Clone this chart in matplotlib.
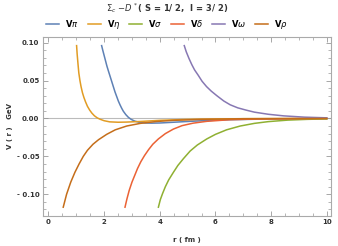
import matplotlib
matplotlib.use("Agg")
import matplotlib.pyplot as plt
from matplotlib.ticker import MultipleLocator, FuncFormatter

# values (r in fm, V in GeV)
r_pi = [1.91, 1.95, 2.0, 2.05, 2.1, 2.15, 2.21, 2.27, 2.33, 2.39, 2.45, 2.51, 2.57, 2.63, 2.69,
        2.78, 2.87, 2.97, 3.1, 3.25, 3.45, 3.7, 4.0, 4.5, 5.0, 5.7, 6.5, 7.5, 8.5, 10.0]
v_pi = [0.096, 0.090, 0.083, 0.076, 0.069, 0.063, 0.056, 0.049, 0.042, 0.035, 0.029, 0.023,
        0.018, 0.0135, 0.0095, 0.005, 0.0015, -0.0012, -0.0035, -0.005, -0.006, -0.0062,
        -0.006, -0.005, -0.004, -0.0027, -0.0017, -0.001, -0.0006, -0.0003]

r_eta = [1.01, 1.03, 1.06, 1.09, 1.13, 1.17, 1.22, 1.27, 1.33, 1.4, 1.48, 1.56, 1.65, 1.75,
         1.85, 2.0, 2.2, 2.5, 2.8, 3.3, 4.0, 5.0, 7.0, 10.0]
v_eta = [0.096, 0.085, 0.072, 0.060, 0.050, 0.042, 0.034, 0.028, 0.022, 0.016, 0.011, 0.007,
         0.0035, 0.0008, -0.001, -0.003, -0.0045, -0.005, -0.0048, -0.004, -0.0025, -0.0012,
         -0.0003, 0.0]

r_sigma = [3.95, 4.02, 4.1, 4.2, 4.32, 4.49, 4.65, 4.85, 5.09, 5.35, 5.69, 6.0, 6.4, 6.89,
           7.4, 7.9, 8.6, 9.3, 10.0]
v_sigma = [-0.117, -0.107, -0.099, -0.090, -0.081, -0.071, -0.062, -0.053, -0.043, -0.035,
           -0.027, -0.021, -0.015, -0.010, -0.0065, -0.0042, -0.0022, -0.0012, -0.0006]

r_delta = [2.75, 2.82, 2.9, 3.0, 3.1, 3.2, 3.32, 3.45, 3.6, 3.75, 3.95, 4.2, 4.49, 4.8, 5.2,
           5.69, 6.5, 7.5, 10.0]
v_delta = [-0.117, -0.106, -0.095, -0.084, -0.075, -0.066, -0.057, -0.049, -0.041, -0.034,
           -0.027, -0.020, -0.014, -0.0095, -0.0062, -0.0038, -0.0017, -0.0007, 0.0]

r_omega = [4.88, 4.95, 5.05, 5.15, 5.25, 5.38, 5.52, 5.68, 5.85, 6.05, 6.3, 6.53, 6.8, 7.1,
           7.4, 7.9, 8.45, 9.2, 10.0]
v_omega = [0.096, 0.088, 0.079, 0.071, 0.064, 0.057, 0.049, 0.042, 0.036, 0.030, 0.023,
           0.018, 0.014, 0.011, 0.0083, 0.0055, 0.0034, 0.0017, 0.0008]

r_rho = [0.53, 0.65, 0.8, 0.95, 1.1, 1.25, 1.4, 1.6, 1.8, 2.09, 2.4, 2.81, 3.3, 3.89, 4.5,
         5.5, 7.0, 10.0]
v_rho = [-0.117, -0.100, -0.084, -0.071, -0.060, -0.050, -0.042, -0.034, -0.028, -0.021,
         -0.015, -0.010, -0.0065, -0.004, -0.0025, -0.0012, -0.0004, 0.0]

labels = ["V$\\pi$", "V$\\eta$", "V$\\sigma$", "V$\\delta$", "V$\\omega$", "V$\\rho$"]
colors = ["#5E81B5", "#E19C24", "#8FB032", "#EB6235", "#8778B3", "#C56E1A"]

plt.rcParams["mathtext.default"] = "it"

fig = plt.figure(figsize=(3.38, 2.46), dpi=100)
ax = fig.add_axes([0.127, 0.122, 0.852, 0.728])

ax.axhline(0, color="#bbbbbb", lw=0.8, zorder=1)

series = [(r_pi, v_pi), (r_eta, v_eta), (r_sigma, v_sigma),
          (r_delta, v_delta), (r_omega, v_omega), (r_rho, v_rho)]
for (r, v), lab, c in zip(series, labels, colors):
    ax.plot(r, v, color=c, lw=1.1, label=lab, zorder=2)

ax.set_xlim(-0.2, 10.15)
ax.set_ylim(-0.1286, 0.1075)

ax.xaxis.set_major_locator(MultipleLocator(2))
ax.xaxis.set_minor_locator(MultipleLocator(0.5))
ax.yaxis.set_major_locator(MultipleLocator(0.05))
ax.yaxis.set_minor_locator(MultipleLocator(0.01))


def yfmt(val, pos):
    if abs(val) < 1e-9:
        return "0.00"
    if val < 0:
        return "- %.2f" % abs(val)
    return "%.2f" % val


ax.yaxis.set_major_formatter(FuncFormatter(yfmt))
ax.xaxis.set_major_formatter(FuncFormatter(lambda v, p: "%d" % v))

ax.tick_params(which="both", direction="in", top=True, right=True, color="#999999",
               labelsize=5, labelcolor="#333333", pad=2.5)
ax.tick_params(which="major", length=3.5, width=0.6)
ax.tick_params(which="minor", length=2, width=0.5)
for lbl in ax.get_xticklabels() + ax.get_yticklabels():
    lbl.set_fontweight("bold")
for s in ax.spines.values():
    s.set_color("#aaaaaa")
    s.set_linewidth(0.8)

ax.set_xlabel("r ( fm )", fontsize=5, fontweight="bold", color="#333333")
ax.set_ylabel("V ( r )   GeV", fontsize=5, fontweight="bold", color="#333333")
ax.xaxis.set_label_coords(0.5, -0.115)
ax.yaxis.set_label_coords(-0.105, 0.5)

fig.text(0.494, 0.968, "$\\Sigma_c$ $-D^*$( S = 1/ 2,  I = 3/ 2)", ha="center", va="center",
         fontsize=6, fontweight="bold", color="#333333")

fig.legend(loc="center", bbox_to_anchor=(0.494, 0.902), ncol=6, frameon=False,
           handlelength=1.6, handletextpad=0.7, columnspacing=1.05,
           prop={"size": 6, "weight": "bold"})

fig.savefig("out.png", dpi=100)
